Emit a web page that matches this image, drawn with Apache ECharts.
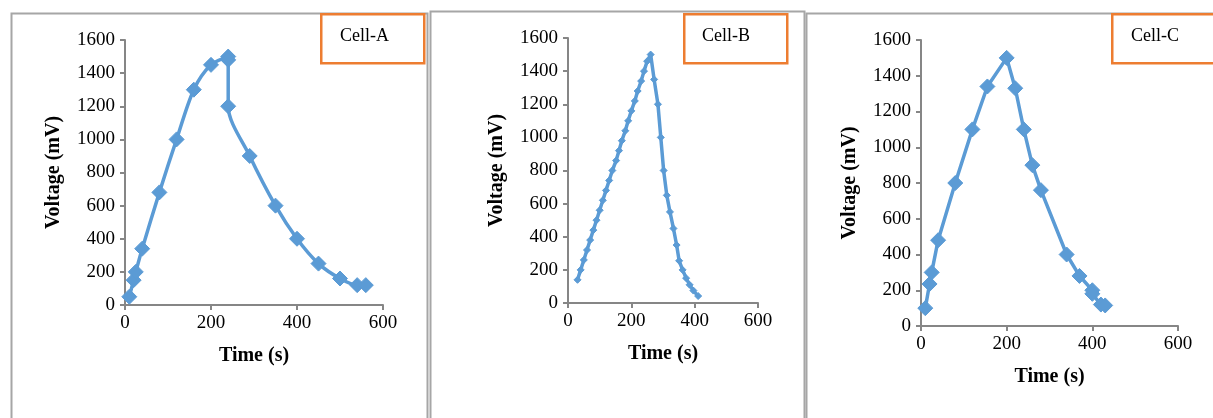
<!DOCTYPE html>
<html>
<head>
<meta charset="utf-8">
<script src="https://cdn.jsdelivr.net/npm/echarts@6/dist/echarts.min.js"></script>
<style>
  html, body { margin: 0; padding: 0; background: #fff; }
  #chart { width: 1213px; height: 418px; }
</style>
</head>
<body>
<div id="chart"></div>
<script>
// Cell-A
const timeA = [10, 20, 25, 40, 80, 120, 160, 200, 240, 240, 240, 290, 350, 400, 450, 500, 540, 560]
const voltA = [50, 150, 200, 340, 680, 1000, 1300, 1450, 1500, 1480, 1200, 900, 600, 400, 250, 160, 120, 120]

// Cell-B
const timeB = [30, 40, 50, 60, 70, 80, 90, 100, 110, 120, 130, 140, 152, 161, 170, 181, 190, 200, 211, 220, 231, 240, 250, 261,
  272, 284, 293, 302, 312, 322, 333, 343, 351, 362, 373, 384, 396, 411]
const voltB = [140, 200, 260, 320, 380, 440, 500, 560, 620, 680, 740, 800, 860, 920, 980, 1040, 1100, 1160, 1220, 1280, 1340, 1400, 1460, 1500,
  1350, 1200, 1000, 800, 650, 550, 450, 350, 255, 200, 150, 110, 75, 42]

// Cell-C
const timeC = [10, 20, 25, 40, 80, 120, 155, 200, 220, 240, 260, 280, 340, 370, 400, 400, 420, 430]
const voltC = [100, 235, 300, 480, 800, 1100, 1340, 1500, 1330, 1100, 900, 760, 400, 280, 200, 180, 120, 115]

const xTicks = [0, 200, 400, 600]
const yTicks = [0, 200, 400, 600, 800, 1000, 1200, 1400, 1600]
const cellNames = ['Cell-A', 'Cell-B', 'Cell-C']

const blue = '#5B9BD5'
const orange = '#ED7D31'
const axisGray = '#868686'
const frameGray = '#A6A6A6'
const serif = '"Liberation Serif", "Times New Roman", serif'

const grids = [
  { left: 125, top: 40, width: 258, height: 265 },
  { left: 568, top: 38, width: 190, height: 265 },
  { left: 921, top: 40, width: 257, height: 286 }
]

const pairs = (xs, ys) => xs.map((x, i) => [x, ys[i]])

function xAxis(i) {
  return {
    gridIndex: i,
    type: 'value',
    min: xTicks[0],
    max: xTicks[xTicks.length - 1],
    interval: xTicks[1] - xTicks[0],
    name: 'Time (s)',
    nameLocation: 'middle',
    nameGap: 41,
    nameTextStyle: { fontFamily: serif, fontSize: 20, fontWeight: 'bold', color: '#000' },
    axisLine: { show: true, lineStyle: { color: axisGray, width: 2 } },
    axisTick: { show: true, inside: false, length: 5, lineStyle: { color: axisGray, width: 2 } },
    axisLabel: { fontFamily: serif, fontSize: 19, color: '#000', margin: 9, formatter: v => String(v) },
    splitLine: { show: false }
  }
}

function yAxis(i) {
  return {
    gridIndex: i,
    type: 'value',
    min: yTicks[0],
    max: yTicks[yTicks.length - 1],
    interval: yTicks[1] - yTicks[0],
    name: 'Voltage (mV)',
    nameLocation: 'middle',
    nameGap: 61,
    nameTextStyle: { fontFamily: serif, fontSize: 20, fontWeight: 'bold', color: '#000' },
    axisLine: { show: true, lineStyle: { color: axisGray, width: 2 } },
    axisTick: { show: true, inside: false, length: 5, lineStyle: { color: axisGray, width: 2 } },
    axisLabel: { fontFamily: serif, fontSize: 19, color: '#000', margin: 10, formatter: v => String(v) },
    splitLine: { show: false }
  }
}

function cellSeries(i, data, symbolSize, smooth) {
  return {
    type: 'line',
    xAxisIndex: i,
    yAxisIndex: i,
    data: data,
    smooth: smooth,
    symbol: 'diamond',
    symbolSize: symbolSize,
    showAllSymbol: true,
    lineStyle: { color: blue, width: 3.5 },
    itemStyle: { color: blue, borderColor: blue, borderWidth: 1 },
    animation: false
  }
}

// chart frames and the orange text boxes
const frames = [
  { x: 9, y: 11, w: 416 },
  { x: 428, y: 9, w: 374 },
  { x: 804, y: 11, w: 420 }
]
const boxes = [
  { x: 320, y: 13, w: 103, tx: 340 },
  { x: 683, y: 13, w: 103, tx: 702 },
  { x: 1111, y: 13, w: 110, tx: 1131 }
]

const graphic = []
frames.forEach(f => {
  graphic.push({
    type: 'rect', left: f.x, top: f.y, z: 0,
    shape: { width: f.w, height: 430 },
    style: { fill: 'none', stroke: frameGray, lineWidth: 2 }
  })
})
boxes.forEach((b, i) => {
  graphic.push({
    type: 'rect', left: b.x, top: b.y, z: 10,
    shape: { width: b.w, height: 49 },
    style: { fill: '#fff', stroke: orange, lineWidth: 2.5 }
  })
  graphic.push({
    type: 'text', left: b.tx, top: 27, z: 11,
    style: { text: cellNames[i], font: '18px ' + serif, fill: '#000' }
  })
})

const chart = echarts.init(document.getElementById('chart'))
chart.setOption({
  animation: false,
  backgroundColor: '#fff',
  grid: grids,
  xAxis: [xAxis(0), xAxis(1), xAxis(2)],
  yAxis: [yAxis(0), yAxis(1), yAxis(2)],
  series: [
    cellSeries(0, pairs(timeA, voltA), 15, 0.3),
    cellSeries(1, pairs(timeB, voltB), 7, false),
    cellSeries(2, pairs(timeC, voltC), 15, false)
  ],
  graphic: graphic
})
</script>
</body>
</html>
